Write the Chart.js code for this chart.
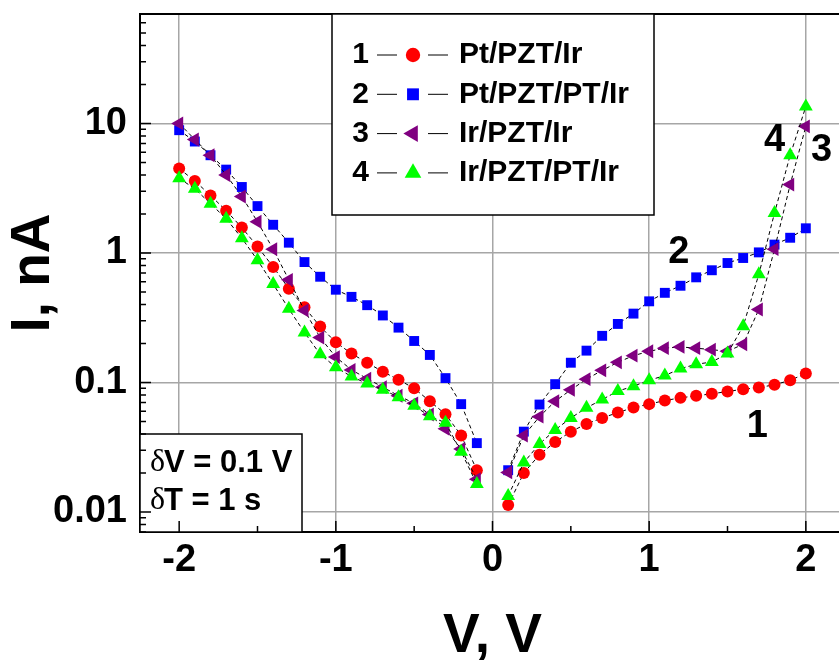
<!DOCTYPE html>
<html>
<head>
<meta charset="utf-8">
<title>I-V curves</title>
<script src="https://cdn.jsdelivr.net/npm/chart.js@4.4.1/dist/chart.umd.min.js"></script>
<style>
  html, body { margin: 0; padding: 0; background: #fff; overflow: hidden; }
  #ivChart { display: block; }
</style>
</head>
<body>
<canvas id="ivChart" width="850" height="660"></canvas>
<script>
// bias voltage, V (no point at 0 V)
const voltage = [
  -2.0, -1.9, -1.8, -1.7, -1.6, -1.5, -1.4, -1.3, -1.2, -1.1,
  -1.0, -0.9, -0.8, -0.7, -0.6, -0.5, -0.4, -0.3, -0.2, -0.1,
  0.1, 0.2, 0.3, 0.4, 0.5, 0.6, 0.7, 0.8, 0.9, 1.0,
  1.1, 1.2, 1.3, 1.4, 1.5, 1.6, 1.7, 1.8, 1.9, 2.0
];

// leakage current, nA
const ptPztIr = [
  4.48, 3.6, 2.78, 2.12, 1.57, 1.12, 0.78, 0.53, 0.38, 0.27,
  0.204, 0.167, 0.142, 0.121, 0.105, 0.090, 0.0716, 0.0568, 0.039, 0.021,
  0.0113, 0.020, 0.0277, 0.0347, 0.0417, 0.0478, 0.0532, 0.0585, 0.064, 0.068,
  0.0725, 0.076, 0.0789, 0.0817, 0.0851, 0.0887, 0.0914, 0.0959, 0.104, 0.117
];
const ptPztPtIr = [
  8.87, 7.25, 5.68, 4.40, 3.23, 2.30, 1.65, 1.20, 0.85, 0.655,
  0.52, 0.458, 0.395, 0.329, 0.265, 0.209, 0.163, 0.108, 0.068, 0.034,
  0.021, 0.0417, 0.0675, 0.097, 0.142, 0.176, 0.229, 0.283, 0.340, 0.423,
  0.492, 0.558, 0.648, 0.735, 0.836, 0.914, 1.01, 1.16, 1.31, 1.55
];
const irPztIr = [
  10.0, 7.52, 5.68, 4.0, 2.73, 1.74, 1.07, 0.62, 0.36, 0.222,
  0.157, 0.125, 0.107, 0.092, 0.079, 0.069, 0.0565, 0.0438, 0.0306, 0.0179,
  0.0202, 0.0388, 0.0544, 0.0716, 0.0877, 0.106, 0.124, 0.143, 0.161, 0.174,
  0.184, 0.188, 0.184, 0.179, 0.174, 0.197, 0.366, 1.07, 3.37, 9.5
];
const irPztPtIr = [
  3.77, 3.13, 2.40, 1.84, 1.30, 0.88, 0.575, 0.37, 0.243, 0.165,
  0.131, 0.111, 0.098, 0.088, 0.077, 0.066, 0.0548, 0.0488, 0.0292, 0.0164,
  0.0133, 0.0241, 0.0335, 0.043, 0.0532, 0.0637, 0.0738, 0.0857, 0.0936, 0.104,
  0.113, 0.128, 0.138, 0.144, 0.167, 0.272, 0.684, 2.03, 5.68, 13.5
];

const seriesNames = ['Pt/PZT/Ir', 'Pt/PZT/PT/Ir', 'Ir/PZT/Ir', 'Ir/PZT/PT/Ir'];
const seriesNumbers = ['1', '2', '3', '4'];

const xTickValues = [-2, -1, 0, 1, 2];
const yTickValues = [0.01, 0.1, 1, 10];
const yTickLabels = ['0.01', '0.1', '1', '10'];

const stepNote = ['V = 0.1 V', 'T = 1 s'];

const BOLD = "'Liberation Sans', Arial, Helvetica, sans-serif";

// turn a current list into points, leaving a hole at 0 V so the two branches stay apart
function toPoints(vals) {
  const pts = voltage.map((v, i) => ({ x: v, y: vals[i] }));
  const split = voltage.findIndex(v => v > 0);
  pts.splice(split, 0, { x: 0, y: null });
  return pts;
}

const styles = [
  { color: '#ff0000', pointStyle: 'circle', radius: 6, rotation: 0, order: 2 },
  { color: '#0000ff', pointStyle: 'rect', radius: 7, rotation: 0, order: 3 },
  { color: '#800080', pointStyle: 'triangle', radius: 8, rotation: -90, order: 1 },
  { color: '#00ff00', pointStyle: 'triangle', radius: 8, rotation: 0, order: 0 }
];

const allSeries = [ptPztIr, ptPztPtIr, irPztIr, irPztPtIr];

const datasets = allSeries.map((vals, i) => ({
  label: seriesNames[i],
  data: toPoints(vals),
  showLine: true,
  spanGaps: false,
  borderColor: '#000',
  borderWidth: 1,
  borderDash: [4, 3],
  pointStyle: styles[i].pointStyle,
  pointRotation: styles[i].rotation,
  pointRadius: styles[i].radius,
  pointBackgroundColor: styles[i].color,
  pointBorderColor: styles[i].color,
  pointBorderWidth: 0,
  order: styles[i].order
}));

// curve numbers written next to the curves (placed in data units)
const curveTags = [
  { text: '1', v: 1.69, i: 0.046 },
  { text: '2', v: 1.19, i: 1.0 },
  { text: '3', v: 2.1, i: 6.2 },
  { text: '4', v: 1.8, i: 7.4 }
];

// keep the plot box where it is: no extra room for half tick labels
function fixBox(size, key) {
  return scale => {
    scale[key] = size;
    scale.paddingTop = 0;
    scale.paddingBottom = 0;
    scale.paddingLeft = 0;
    scale.paddingRight = 0;
  };
}

const decorPlugin = {
  id: 'decor',
  afterDatasetsDraw(chart) {
    const { ctx, chartArea: a, scales: { x, y } } = chart;
    ctx.save();

    // top frame line
    ctx.strokeStyle = '#000';
    ctx.lineWidth = 2;
    ctx.beginPath();
    ctx.moveTo(a.left, a.top);
    ctx.lineTo(a.right, a.top);
    ctx.stroke();

    // legend box
    const lx = 332, ly = a.top, lw = 322, lh = 201;
    ctx.fillStyle = '#fff';
    ctx.fillRect(lx, ly, lw, lh);
    ctx.lineWidth = 1.5;
    ctx.strokeRect(lx, ly, lw, lh);
    ctx.textBaseline = 'middle';
    for (let k = 0; k < seriesNames.length; k++) {
      const ry = 55 + k * 39.3;
      ctx.fillStyle = '#000';
      ctx.font = `bold 30px ${BOLD}`;
      ctx.textAlign = 'right';
      ctx.fillText(seriesNumbers[k], 369, ry);
      ctx.textAlign = 'left';
      ctx.fillText(seriesNames[k], 459, ry);
      ctx.lineWidth = 1;
      ctx.beginPath();
      ctx.moveTo(377, ry); ctx.lineTo(397, ry);
      ctx.moveTo(428, ry); ctx.lineTo(448, ry);
      ctx.stroke();
      const s = styles[k];
      ctx.fillStyle = s.color;
      ctx.strokeStyle = s.color;
      Chart.helpers.drawPoint(ctx, {
        pointStyle: s.pointStyle, rotation: s.rotation,
        radius: s.radius * 1.2, borderWidth: 0
      }, 413, ry);
      ctx.strokeStyle = '#000';
    }

    // step note box in the lower left corner
    const bx = a.left, by = 434, bw = 162, bh = a.bottom - 434;
    ctx.fillStyle = '#fff';
    ctx.fillRect(bx, by, bw, bh);
    ctx.strokeStyle = '#000';
    ctx.lineWidth = 1.5;
    ctx.strokeRect(bx, by, bw, bh);
    ctx.fillStyle = '#000';
    ctx.textAlign = 'left';
    [463, 501].forEach((ty, k) => {
      ctx.font = "32px 'Liberation Serif', 'Times New Roman', serif";
      ctx.fillText('\u03b4', 150, ty);
      ctx.font = `bold 31px ${BOLD}`;
      ctx.fillText(stepNote[k], 164, ty);
    });

    // inward tick marks on the bottom and left axes
    ctx.strokeStyle = '#000';
    ctx.lineWidth = 1.5;
    ctx.beginPath();
    for (let v = -2; v <= 2; v += 0.5) {
      const px = x.getPixelForValue(v);
      const len = Number.isInteger(v) ? 11 : 6;
      ctx.moveTo(px, a.bottom);
      ctx.lineTo(px, a.bottom - len);
    }
    for (let d = -3; d <= 1; d++) {
      for (let m = 1; m <= 9; m++) {
        const v = m * Math.pow(10, d);
        if (v < y.min || v > y.max) continue;
        const py = y.getPixelForValue(v);
        const len = m === 1 ? 11 : 6;
        ctx.moveTo(a.left, py);
        ctx.lineTo(a.left + len, py);
      }
    }
    ctx.stroke();

    // curve numbers
    ctx.fillStyle = '#000';
    ctx.font = `bold 38px ${BOLD}`;
    ctx.textAlign = 'center';
    curveTags.forEach(t => {
      ctx.fillText(t.text, x.getPixelForValue(t.v), y.getPixelForValue(t.i));
    });

    ctx.restore();
  }
};

const chart = new Chart(document.getElementById('ivChart'), {
  type: 'scatter',
  data: { datasets },
  options: {
    responsive: false,
    animation: false,
    layout: { autoPadding: false, padding: { top: 14, right: 5, left: 0, bottom: 0 } },
    plugins: {
      legend: { display: false },
      tooltip: { enabled: false }
    },
    scales: {
      x: {
        type: 'linear',
        min: -2.25,
        max: 2.25,
        afterBuildTicks: scale => { scale.ticks = xTickValues.map(v => ({ value: v })); },
        afterFit: fixBox(128, 'height'),
        grid: { color: '#a6a6a6', lineWidth: 1.5, drawTicks: false },
        border: { color: '#000', width: 2 },
        ticks: {
          color: '#000',
          padding: 6,
          font: { family: BOLD, size: 38, weight: 'bold' },
          callback: v => String(v)
        },
        title: {
          display: true,
          text: 'V, V',
          color: '#000',
          padding: { top: 0, bottom: 0 },
          font: { family: BOLD, size: 55, weight: 'bold', lineHeight: 0.85 }
        }
      },
      y: {
        type: 'logarithmic',
        min: 0.007,
        max: 70,
        afterBuildTicks: scale => { scale.ticks = yTickValues.map(v => ({ value: v })); },
        afterFit: fixBox(140, 'width'),
        grid: { color: '#a6a6a6', lineWidth: 1.5, drawTicks: false },
        border: { color: '#000', width: 2 },
        ticks: {
          color: '#000',
          padding: 13,
          font: { family: BOLD, size: 38, weight: 'bold' },
          callback: (v, idx) => yTickLabels[idx]
        },
        title: {
          display: true,
          text: 'I, nA',
          color: '#000',
          padding: { top: 10, bottom: 0 },
          font: { family: BOLD, size: 55, weight: 'bold', lineHeight: 0.85 }
        }
      }
    }
  },
  plugins: [decorPlugin]
});
</script>
</body>
</html>
